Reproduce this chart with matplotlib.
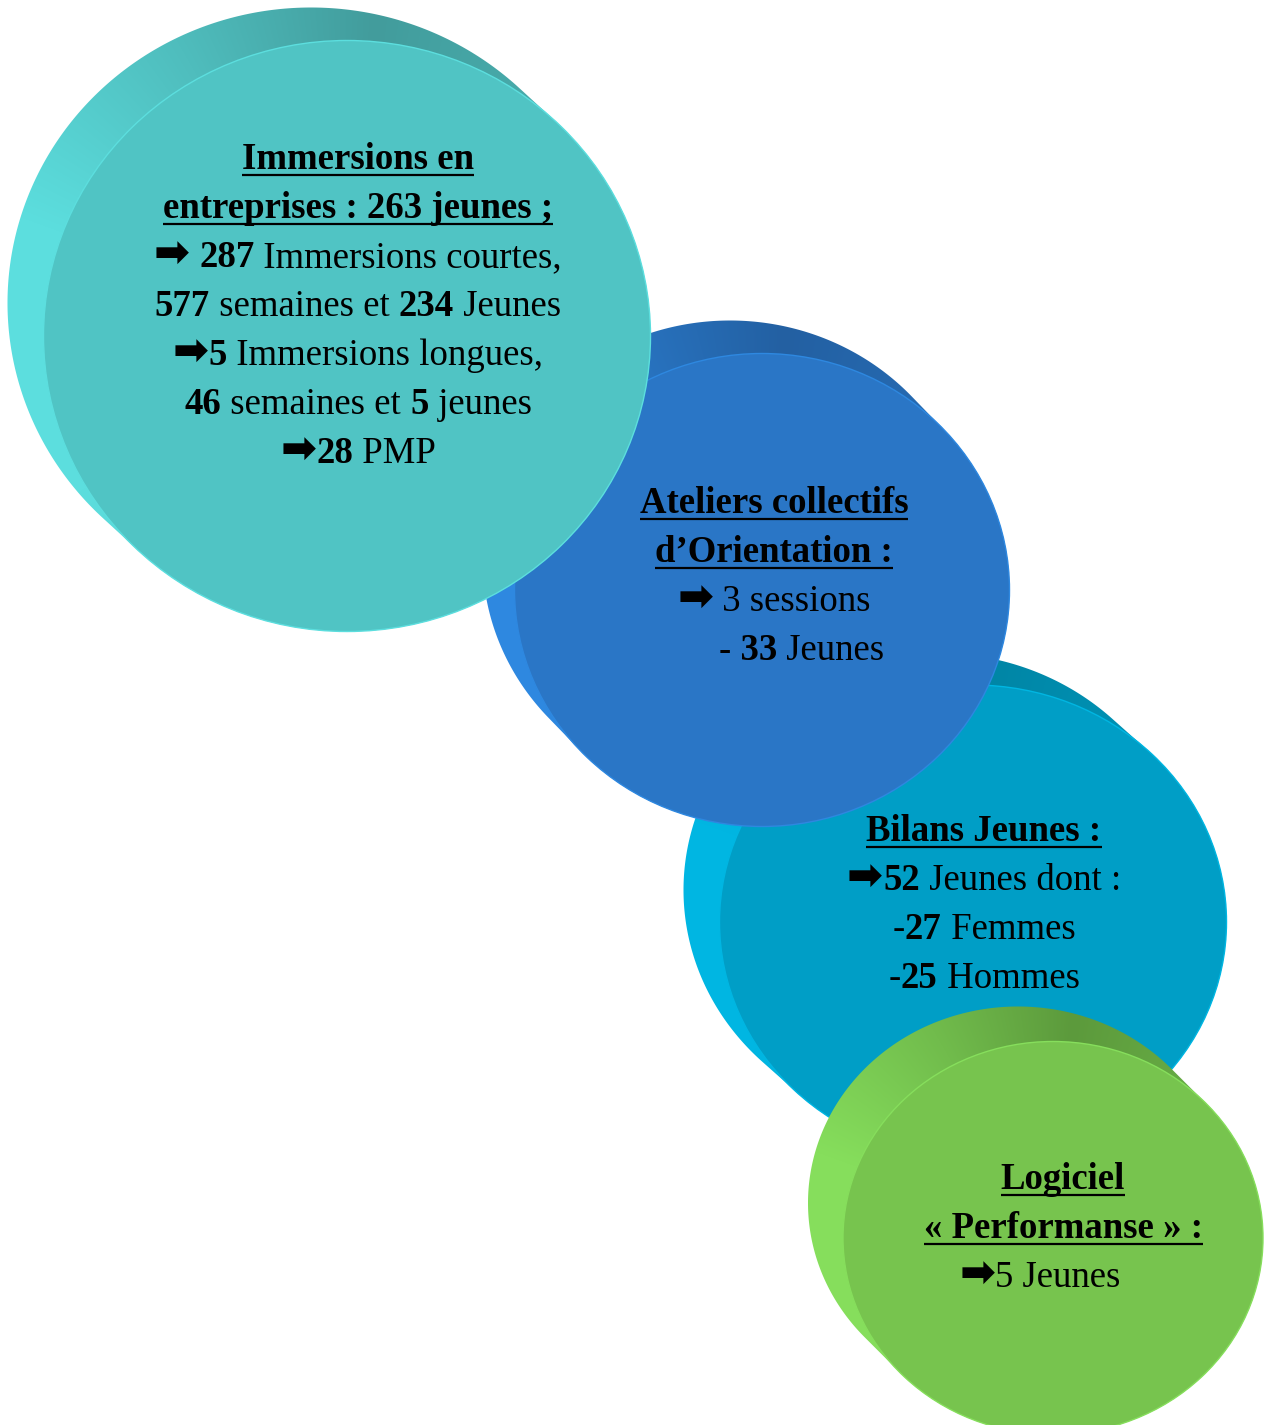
import numpy as np
import matplotlib
matplotlib.use("Agg")
import matplotlib.pyplot as plt
from matplotlib.patches import Ellipse, Polygon

# ---- contents of the four discs (** marks bold runs) ----
immersions = [
    "**Immersions en**",
    "**entreprises : 263 jeunes ;**",
    "**➡** **287** Immersions courtes,",
    "**577** semaines et **234** Jeunes",
    "**➡****5** Immersions longues,",
    "**46** semaines et **5** jeunes",
    "**➡****28** PMP",
]
ateliers = [
    "**Ateliers collectifs**",
    "**d’Orientation :**",
    "**➡** 3 sessions",
    "      **- 33** Jeunes",
]
bilans = [
    "**Bilans Jeunes :**",
    "**➡****52** Jeunes dont :",
    "-**27** Femmes",
    "-**25** Hommes",
]
logiciel = [
    "**Logiciel**",
    "**« Performanse » :**",
    "**➡**5 Jeunes     ",
]
blocks = [immersions, ateliers, bilans, logiciel]
n_titles = [2, 2, 1, 2]   # underlined lines at the top of each block

# ---- layout (pixels, y downwards) ----
centers = [(347, 336), (762, 590), (973, 922), (1053, 1238)]
sizes = [(607, 591), (495, 473), (507, 474), (420, 393)]
offsets = [(-36, -33), (-32, -33), (-36, -32), (-35, -35)]
front_col = ["#50C4C4", "#2A76C6", "#009EC6", "#77C44E"]
side_light = ["#5CDEDE", "#2E88E0", "#00B6E2", "#86DE5C"]
side_dark = ["#429C9C", "#2360A2", "#0086A6", "#5C9A3C"]
text_x = [358, 774, 984, 1063]
first_base = [169, 513, 841, 1189]
line_step = 49
draw_order = [2, 3, 1, 0]

FS = 26.5
ARROW_FS = 31
FAMILY = ["Liberation Serif", "DejaVu Sans"]

W, H = 1269, 1425
fig = plt.figure(figsize=(W / 100, H / 100), dpi=100)
ax = fig.add_axes([0, 0, 1, 1])
ax.set_xlim(0, W)
ax.set_ylim(H, 0)
ax.axis("off")
renderer = fig.canvas.get_renderer()


def hex2rgb(h):
    return np.array([int(h[i:i + 2], 16) / 255 for i in (1, 3, 5)])


def side_outline(cx, cy, a, b, dx, dy, n=240):
    t0 = np.arctan2(-b * dx, a * dy)
    tm = t0 + np.pi / 2
    if b * np.cos(tm) * dx + a * np.sin(tm) * dy < 0:
        t0 += np.pi
    tb = np.linspace(t0, t0 + np.pi, n)
    tf = np.linspace(t0 + np.pi, t0 + 2 * np.pi, n)
    back = np.c_[cx + dx + a * np.cos(tb), cy + dy + b * np.sin(tb)]
    front = np.c_[cx + a * np.cos(tf), cy + b * np.sin(tf)]
    return np.vstack([back, front])


# shading of the disc edge by angle around the centre (0 = right, 270 = up)
ang_pts = [0, 90, 150, 200, 240, 275, 310, 360]
ang_val = [0.4, 0.7, 1.0, 1.0, 0.5, 0.0, 0.25, 0.4]

for k in draw_order:
    cx, cy = centers[k]
    w, h = sizes[k]
    dx, dy = offsets[k]
    z = 10 + 10 * draw_order.index(k)

    pts = side_outline(cx, cy, w / 2, h / 2, dx, dy)
    x0, y0 = np.floor(pts.min(axis=0)) - 2
    x1, y1 = np.ceil(pts.max(axis=0)) + 2
    X, Y = np.meshgrid(np.arange(x0, x1), np.arange(y0, y1))
    phi = np.degrees(np.arctan2(Y - cy, X - cx)) % 360
    t = np.interp(phi, ang_pts, ang_val, period=360)[..., None]
    lo, hi = hex2rgb(side_dark[k]), hex2rgb(side_light[k])
    img = lo + (hi - lo) * t

    outline = Polygon(pts, closed=True, facecolor="none", edgecolor="none")
    ax.add_patch(outline)
    im = ax.imshow(img, extent=(x0, x1, y1, y0), origin="upper",
                   interpolation="bilinear", zorder=z)
    im.set_clip_path(outline)

    ax.add_patch(Ellipse((cx, cy), w, h, facecolor=front_col[k],
                         edgecolor=side_light[k], lw=1.0, zorder=z + 1))


def text_width(s, weight, size):
    t = ax.text(0, 0, "x" + s + "x", fontsize=size, fontweight=weight, family=FAMILY)
    tw = t.get_window_extent(renderer).width
    t.remove()
    r = ax.text(0, 0, "xx", fontsize=size, fontweight=weight, family=FAMILY)
    rw = r.get_window_extent(renderer).width
    r.remove()
    return tw - rw


for k, lines in enumerate(blocks):
    for i, line in enumerate(lines):
        base = first_base[k] + i * line_step
        parts = line.split("**")
        runs = [(p, "bold" if j % 2 else "normal") for j, p in enumerate(parts) if p]
        runs = [(p, wt, ARROW_FS if p == "➡" else FS) for p, wt in runs]
        widths = [text_width(p, wt, sz) for p, wt, sz in runs]
        x = text_x[k] - sum(widths) / 2
        start = x
        for (p, wt, sz), pw in zip(runs, widths):
            ax.text(x, base, p, fontsize=sz, fontweight=wt, family=FAMILY,
                    ha="left", va="baseline", color="black", zorder=200)
            x += pw
        if i < n_titles[k]:
            ax.plot([start, x], [base + 6, base + 6], color="black", lw=1.6,
                    solid_capstyle="butt", zorder=200)

fig.savefig("out.png", dpi=100)
